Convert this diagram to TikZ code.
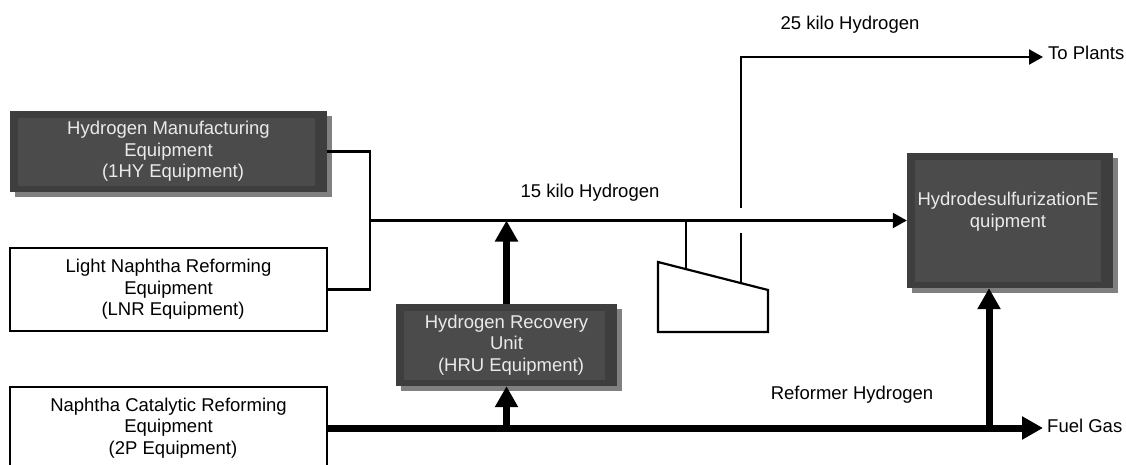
\documentclass[tikz,border=0pt]{standalone}
\usepackage{fontspec}
\setmainfont{Liberation Sans}
\usetikzlibrary{arrows.meta}
\definecolor{boxdark}{HTML}{3E3E3E}
\definecolor{boxinner}{HTML}{4B4B4B}
\definecolor{boxshadow}{HTML}{808080}
\definecolor{boxtext}{HTML}{EAEAEA}
\begin{document}
\begin{tikzpicture}[x=1pt,y=-1pt,
  txt/.style={font=\fontsize{18.5}{21.5}\selectfont, inner sep=0pt, align=center},
  whitebox/.style={txt, draw=black, line width=2pt, fill=white},
  darkbox/.style={txt, text=boxtext, fill=boxdark,
    preaction={fill=boxshadow, transform canvas={shift={(5pt,-5pt)}}},
    path picture={\fill[boxinner] ([shift={(8pt,-7pt)}]path picture bounding box.north west) rectangle ([shift={(-12pt,6pt)}]path picture bounding box.south east);}},
  thinline/.style={line width=2.2pt},
  thinarrow/.style={thinline, -{Triangle[length=14pt,width=15pt]}},
  thickline/.style={line width=7pt},
  thickarrow/.style={thickline, -{Triangle[length=21pt,width=22pt]}},
]
\clip (0,0) rectangle (1126,465);

% boxes
\node[darkbox, minimum width=317pt, minimum height=81pt] (hy) at (168.5,151.5)
  {Hydrogen Manufacturing\\Equipment\\\hspace*{9pt}(1HY Equipment)};
\node[whitebox, minimum width=317pt, minimum height=83pt] (lnr) at (168.5,289.5)
  {Light Naphtha Reforming\\Equipment\\\hspace*{9pt}(LNR Equipment)};
\node[whitebox, minimum width=317pt, minimum height=82pt] (p2) at (168.5,428)
  {Naphtha Catalytic Reforming\\Equipment\\\hspace*{9pt}(2P Equipment)};
\node[darkbox, minimum width=221pt, minimum height=82pt] (hru) at (506.5,345)
  {Hydrogen Recovery\\Unit\\\hspace*{9pt}(HRU Equipment)};
\node[darkbox, minimum width=206pt, minimum height=135pt] (hds) at (1010,220.5) {};
\node[txt, text=boxtext] (hdstext) at (1008,211.5) {HydrodesulfurizationE\\quipment};

% labels
\node[txt] (l15) at (590,192.5) {15 kilo Hydrogen};
\node[txt] (l25) at (850,25) {25 kilo Hydrogen};
\node[txt] (lref) at (852,394.5) {Reformer Hydrogen};
\node[txt, anchor=west] (plants) at (1048,53) {To Plants};
\node[txt, anchor=west] (fuel) at (1047,426) {Fuel Gas};

% coordinates
\coordinate (jx) at (370,220.5);
\coordinate (plantsin) at (1043,57);
\coordinate (fuelin) at (1043,428);
\coordinate (hdsin) at (989,428);
\coordinate (c1) at (658,262);
\coordinate (c2) at (768,290);
\coordinate (c3) at (768,332);
\coordinate (c4) at (658,332);
\coordinate (s1top) at (686,220.5);
\coordinate (s1bot) at (686,269);
\coordinate (s2top) at (741,233);
\coordinate (s2bot) at (741,283);
\coordinate (s3bot) at (741,208);

% thin connectors
\draw[thinline] (hy.east) -| (jx) |- (lnr.east);
\draw[thinarrow] (jx) -- (hds.west);
\draw[thinarrow] (s3bot) |- (plantsin);

% compressor
\draw[thinline, line join=miter] (c1) -- (c2) -- (c3) -- (c4) -- cycle;
\draw[thinline] (s1top) -- (s1bot);
\draw[thinline] (s2top) -- (s2bot);

% thick connectors
\draw[thickarrow] (hru.north) -- (hru.north |- jx);
\draw[thickarrow] (p2.east) -- (fuelin);
\draw[thickarrow] (p2.east -| hru.south) -- (hru.south);
\draw[thickarrow] (hdsin) -- (hdsin |- hds.south);
\end{tikzpicture}
\end{document}
